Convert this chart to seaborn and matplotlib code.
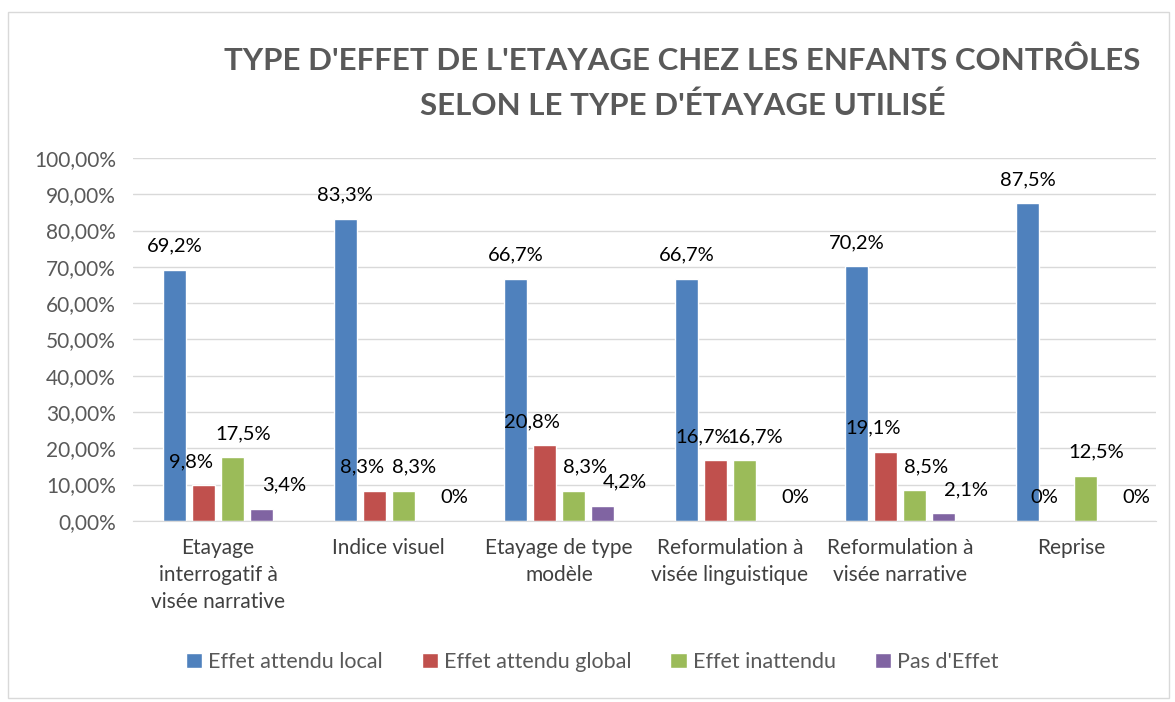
import pandas as pd
import matplotlib.pyplot as plt
import seaborn as sns
from matplotlib.patches import Rectangle

# Data
categories = ["Etayage\ninterrogatif à\nvisée narrative", "Indice visuel",
              "Etayage de type\nmodèle", "Reformulation à\nvisée linguistique",
              "Reformulation à\nvisée narrative", "Reprise"]
series = ["Effet attendu local", "Effet attendu global", "Effet inattendu", "Pas d'Effet"]
local = [69.2, 83.3, 66.7, 66.7, 70.2, 87.5]
global_ = [9.8, 8.3, 20.8, 16.7, 19.1, 0.0]
inattendu = [17.5, 8.3, 8.3, 16.7, 8.5, 12.5]
pas_effet = [3.4, 0.0, 4.2, 0.0, 2.1, 0.0]
colors = ["#4F81BD", "#C0504D", "#9BBB59", "#8064A2"]

rows = []
for s, vals in zip(series, [local, global_, inattendu, pas_effet]):
    for c, v in zip(categories, vals):
        rows.append({"Type": c, "Effet": s, "Valeur": v / 100})
df = pd.DataFrame(rows)

sns.set_style("white")
plt.rcParams["font.family"] = ["Lato", "DejaVu Sans"]

fig = plt.figure(figsize=(11.75, 7.02), dpi=100)
ax = fig.add_axes([0.113, 0.258, 0.871, 0.517])

sns.barplot(data=df, x="Type", y="Valeur", hue="Effet", palette=colors,
            width=0.68, gap=0.2, saturation=1, ax=ax, legend=True)

# data labels, nudged sideways per series so neighbours don't collide
nudge = [0, -9, 8, 16]
for cont, dx in zip(ax.containers, nudge):
    for bar in cont:
        v = bar.get_height() * 100
        txt = "0%" if v == 0 else f"{v:.1f}%".replace(".", ",")
        ax.annotate(txt, (bar.get_x() + bar.get_width() / 2, bar.get_height()),
                    xytext=(dx, 17), textcoords="offset points",
                    ha="center", va="center", fontsize=14.5, color="black")

ax.set_ylim(0, 1)
ax.set_yticks([i / 10 for i in range(11)])
ax.set_yticklabels([f"{i * 10},00%" for i in range(11)], fontsize=15, color="#595959")
ax.tick_params(axis="x", labelsize=15, labelcolor="#404040", length=0, pad=12)
ax.tick_params(axis="y", length=0, pad=12)
for t in ax.get_xticklabels():
    t.set_linespacing(1.45)
ax.set_xlabel("")
ax.set_ylabel("")
ax.yaxis.grid(True, color="#D9D9D9", linewidth=1)
ax.set_axisbelow(True)
for side in ["top", "right", "left"]:
    ax.spines[side].set_visible(False)
ax.spines["bottom"].set_color("#D9D9D9")

handles, labels = ax.get_legend_handles_labels()
ax.legend_.remove()
fig.legend(handles, labels, loc="center", bbox_to_anchor=(0.504, 0.057), ncol=4,
           frameon=False, fontsize=15.5, handlelength=0.75, handleheight=0.75,
           handletextpad=0.3, columnspacing=1.8, labelcolor="#595959")

fig.text(0.581, 0.913, "TYPE D'EFFET DE L'ETAYAGE CHEZ LES ENFANTS CONTRÔLES",
         ha="center", va="center", fontsize=22.5, fontweight="bold", color="#595959")
fig.text(0.581, 0.85, "SELON LE TYPE D'ÉTAYAGE UTILISÉ",
         ha="center", va="center", fontsize=22.5, fontweight="bold", color="#595959")

fig.patches.append(Rectangle((0.007, 0.006), 0.988, 0.977, transform=fig.transFigure,
                             fill=False, edgecolor="#D9D9D9", linewidth=1))

fig.savefig("out.png", dpi=100)
